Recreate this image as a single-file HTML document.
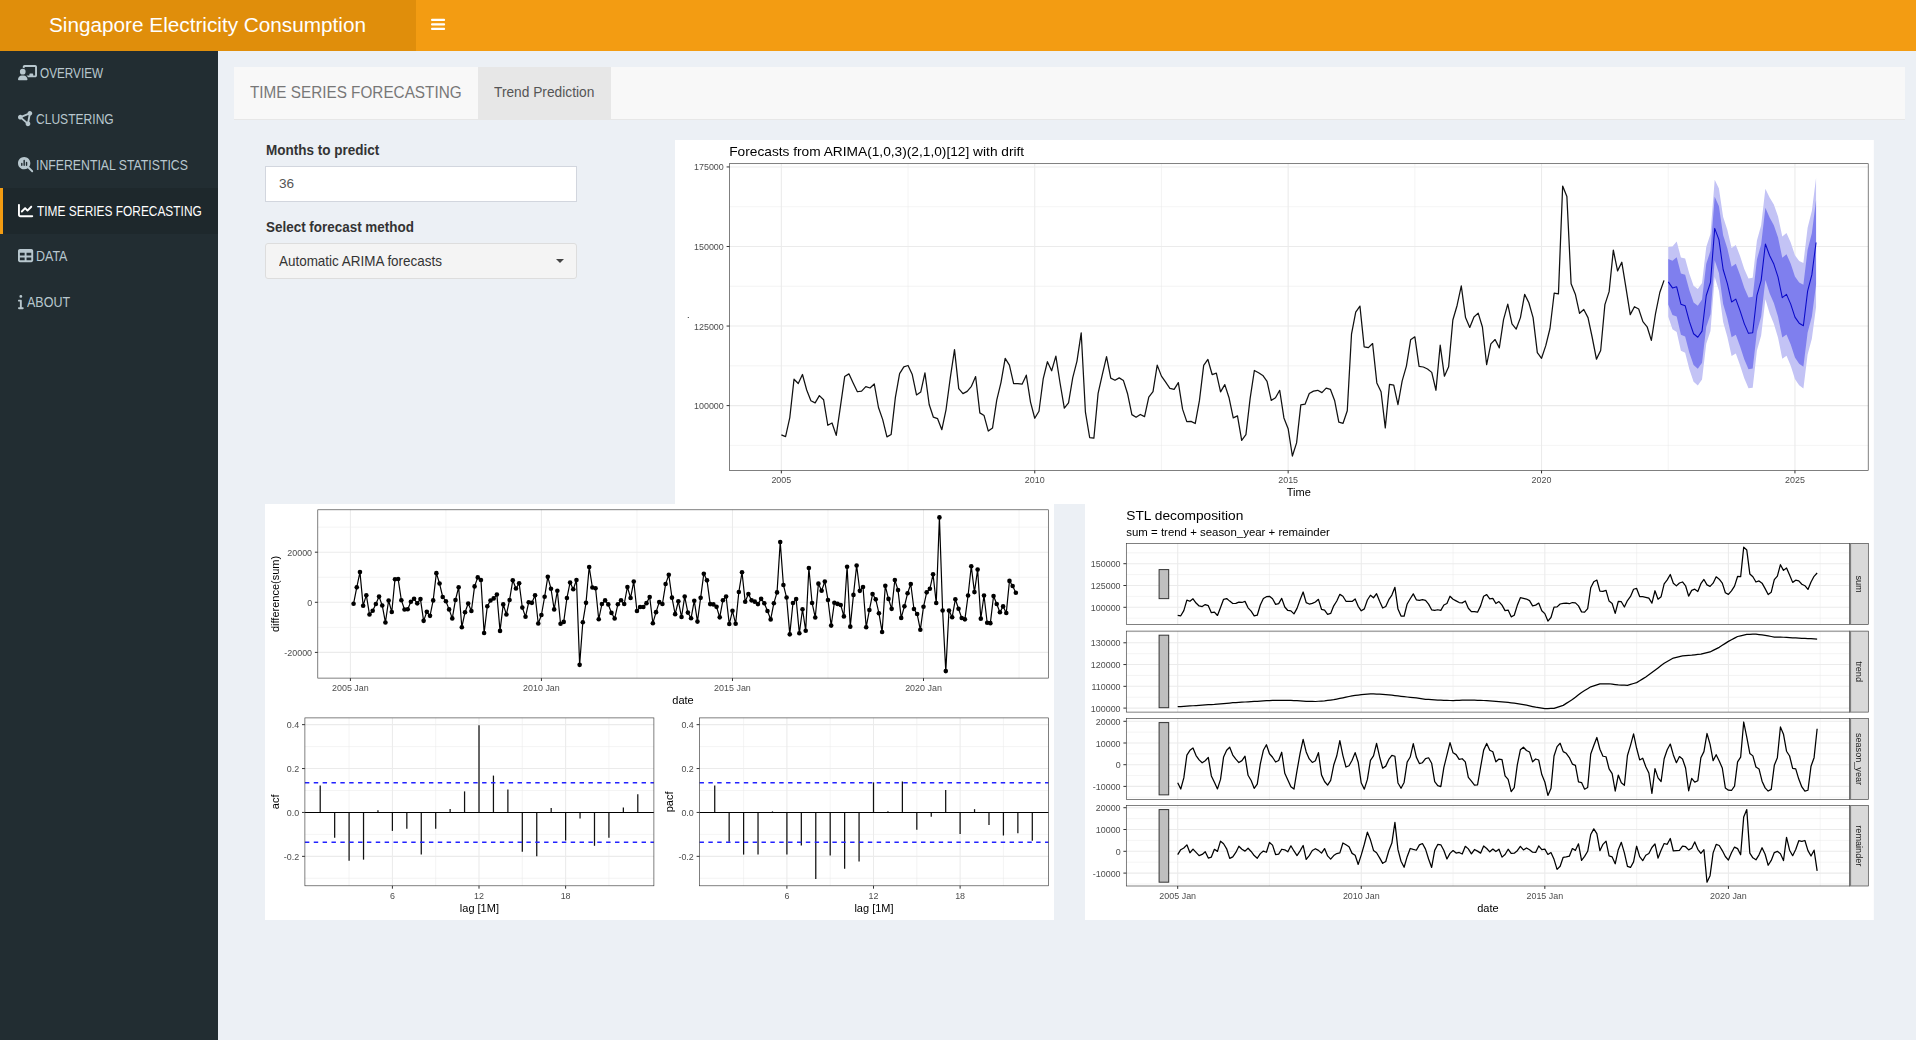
<!DOCTYPE html>
<html lang="en"><head><meta charset="utf-8"><title>Singapore Electricity Consumption</title>
<style>
html,body{margin:0;padding:0}
body{width:1916px;height:1040px;overflow:hidden;background:#ecf0f5;font-family:"Liberation Sans",sans-serif;position:relative}
a{color:inherit;text-decoration:none}
ul{list-style:none;margin:0;padding:0}
.t{position:absolute;white-space:nowrap;line-height:1;transform-origin:0 0;display:block;margin:0;font-weight:400}
.abs{position:absolute}
.main-header{position:absolute;left:0;top:0;width:1916px;height:51px;background:#f39c12}
.main-header .logo{position:absolute;left:0;top:0;width:416px;height:51px;background:#e08e0b}
.main-sidebar{position:absolute;left:0;top:51px;width:218px;height:989px;background:#222d32}
.sidebar-menu li{position:absolute;left:0;width:218px}
.sidebar-menu li.active{background:#1e282c;box-shadow:inset 3px 0 0 #f39c12}
.navbar{position:absolute;left:234px;top:67px;width:1671px;height:52px;background:#f8f8f8;box-shadow:0 1px 0 #e7e7e7}
.navbar .nav li.active{position:absolute;left:244px;top:0;width:133px;height:52px;background:#e7e7e7}
.form-control{position:absolute;box-sizing:border-box;left:265px;width:312px;height:36px;margin:0;background:#fff;border:1px solid #d2d6de;border-radius:0;outline:0}
.btn{position:absolute;box-sizing:border-box;left:265px;top:243px;width:312px;height:36px;background:#f4f4f4;border:1px solid #ddd;border-radius:3px}
.caret{position:absolute;left:290px;top:15px;width:0;height:0;border-left:4px solid transparent;border-right:4px solid transparent;border-top:4px solid #444}
svg.plots{position:absolute;left:0;top:0;will-change:transform}
svg.ic{position:absolute;overflow:visible}
</style></head>
<body class="skin-yellow">
<header class="main-header">
<a class="logo"><span class="t" style="left:49px;top:15.07px;font-size:20px;color:#fff;transform:scaleX(1.0369)">Singapore Electricity Consumption</span></a>
<a class="sidebar-toggle" role="button" aria-label="Toggle navigation"><svg class="ic" aria-hidden="true" style="left:431px;top:18px" width="15" height="13" viewBox="0 0 15 13"><g fill="#fff"><rect x="0" y="0.75" width="14.1" height="2.25" rx="1"/><rect x="0" y="5.3" width="14.1" height="2.3" rx="1"/><rect x="0" y="9.85" width="14.1" height="2.25" rx="1"/></g></svg></a>
</header>
<aside class="main-sidebar"><ul class="sidebar-menu">
<li style="top:0px;height:45px"><a><svg class="ic" aria-hidden="true" style="left:18.2px;top:13.9px" width="19" height="15.2" viewBox="0 0 640 512"><path fill="#b8c7ce" d="M160 64c0-35.300 28.700-64 64-64H576c35.300 0 64 28.700 64 64V352c0 35.300-28.700 64-64 64H336.800c-11.800-25.500-29.900-47.500-52.400-64H384V320c0-17.700 14.300-32 32-32h64c17.700 0 32 14.300 32 32v32h64V64L224 64v49.100C205.200 102.200 183.300 96 160 96V64zm0 64a96 96 0 1 1 0 192 96 96 0 1 1 0-192zM133.300 352h53.300C260.300 352 320 411.700 320 485.300c0 14.700-11.900 26.700-26.700 26.700H26.700C11.900 512 0 500.100 0 485.300C0 411.700 59.700 352 133.300 352z"/></svg><span class="t" style="left:40.4px;top:14.98px;font-size:14.2px;color:#b8c7ce;transform:scaleX(0.8285)">OVERVIEW</span></a></li>
<li style="top:45px;height:46px"><a><svg class="ic" aria-hidden="true" style="left:18.2px;top:14.7px" width="15.2" height="15.2" viewBox="0 0 512 512"><path fill="#b8c7ce" d="M418.400 157.900c35.300-8.300 61.600-40 61.600-77.900c0-44.200-35.800-80-80-80c-43.400 0-78.700 34.500-80 77.500L136.200 151.100C121.700 136.800 101.900 128 80 128c-44.200 0-80 35.800-80 80s35.800 80 80 80c12.200 0 23.800-2.700 34.100-7.600L259.700 407.800c-2.400 7.600-3.700 15.800-3.700 24.200c0 44.200 35.800 80 80 80s80-35.800 80-80c0-27.700-14-52.100-35.400-66.400l37.800-207.700zM156.300 232.200c2.200-6.900 3.500-14.200 3.700-21.700l183.800-73.500c3.600 3.500 7.400 6.700 11.600 9.500L317.600 354.100c-5.500 1.300-10.800 3.100-15.800 5.500L156.300 232.200z"/></svg><span class="t" style="left:36.3px;top:15.78px;font-size:14.2px;color:#b8c7ce;transform:scaleX(0.8500)">CLUSTERING</span></a></li>
<li style="top:91px;height:46px"><a><svg class="ic" aria-hidden="true" style="left:18.2px;top:14.6px" width="15.2" height="15.2" viewBox="0 0 512 512"><path fill="#b8c7ce" d="M416 208c0 45.900-14.900 88.300-40 122.700L502.600 457.400c12.500 12.500 12.500 32.800 0 45.300s-32.800 12.500-45.300 0L330.700 376c-34.400 25.200-76.800 40-122.700 40C93.100 416 0 322.900 0 208S93.100 0 208 0S416 93.100 416 208zm-312 8v64c0 13.300 10.700 24 24 24s24-10.700 24-24V216c0-13.300-10.700-24-24-24s-24 10.700-24 24zm80-96V280c0 13.300 10.700 24 24 24s24-10.700 24-24V120c0-13.300-10.700-24-24-24s-24 10.700-24 24zm80 64v96c0 13.300 10.700 24 24 24s24-10.700 24-24V184c0-13.300-10.700-24-24-24s-24 10.700-24 24z"/></svg><span class="t" style="left:35.8px;top:15.68px;font-size:14.2px;color:#b8c7ce;transform:scaleX(0.8652)">INFERENTIAL STATISTICS</span></a></li>
<li class="active" style="top:137px;height:46px"><a><svg class="ic" aria-hidden="true" style="left:18.2px;top:14.9px" width="15.2" height="15.2" viewBox="0 0 512 512"><path fill="#fff" d="M64 64c0-17.700-14.300-32-32-32S0 46.300 0 64V400c0 44.200 35.800 80 80 80H480c17.700 0 32-14.300 32-32s-14.300-32-32-32H80c-8.800 0-16-7.200-16-16V64zm406.600 86.600c12.500-12.500 12.500-32.800 0-45.300s-32.800-12.500-45.300 0L320 210.700l-57.400-57.400c-12.500-12.500-32.800-12.500-45.300 0l-112 112c-12.500 12.500-12.500 32.800 0 45.300s32.800 12.500 45.300 0L240 221.300l57.400 57.400c12.500 12.500 32.800 12.500 45.300 0l128-128z"/></svg><span class="t" style="left:37px;top:15.98px;font-size:14.2px;color:#fff;transform:scaleX(0.8394)">TIME SERIES FORECASTING</span></a></li>
<li style="top:183px;height:46px"><a><svg class="ic" aria-hidden="true" style="left:18.2px;top:13.9px" width="15.2" height="15.2" viewBox="0 0 512 512"><path fill="#b8c7ce" d="M64 256V160H224v96H64zm0 64H224v96H64V320zm224 96V320H448v96H288zM448 256H288V160H448v96zM64 32C28.700 32 0 60.700 0 96V416c0 35.300 28.700 64 64 64H448c35.300 0 64-28.700 64-64V96c0-35.300-28.700-64-64-64H64z"/></svg><span class="t" style="left:36.3px;top:14.98px;font-size:14.2px;color:#b8c7ce;transform:scaleX(0.8779)">DATA</span></a></li>
<li style="top:229px;height:46px"><a><svg class="ic" aria-hidden="true" style="left:18.2px;top:13.7px" width="5.7" height="15.2" viewBox="0 0 192 512"><path fill="#b8c7ce" d="M48 80a48 48 0 1 1 96 0A48 48 0 1 1 48 80zM0 224c0-17.700 14.300-32 32-32H96c17.700 0 32 14.300 32 32V448h32c17.700 0 32 14.300 32 32s-14.300 32-32 32H32c-17.700 0-32-14.300-32-32s14.300-32 32-32H64V256H32c-17.700 0-32-14.300-32-32z"/></svg><span class="t" style="left:26.9px;top:14.78px;font-size:14.2px;color:#b8c7ce;transform:scaleX(0.8811)">ABOUT</span></a></li>
</ul></aside>
<div class="content-wrapper"><section class="content">
<nav class="navbar navbar-default"><span class="t navbar-brand" style="left:16.3px;top:16.86px;font-size:17.3px;color:#777;transform:scaleX(0.8849)">TIME SERIES FORECASTING</span><ul class="nav navbar-nav"><li class="active"><a><span class="t" style="left:16.3px;top:16.7px;font-size:15px;color:#555;transform:scaleX(0.9160)">Trend Prediction</span></a></li></ul></nav>
<div class="form-group"><label class="t" style="left:265.6px;top:142.3px;font-size:15px;color:#333;font-weight:700;transform:scaleX(0.9004)" for="months">Months to predict</label><input id="months" class="form-control" type="text" value="36" style="top:166px;padding:0 0 1.5px 12.9px;font:13.6px/1 'Liberation Sans',sans-serif;color:#555"></div>
<div class="form-group"><label class="t" style="left:265.6px;top:219.3px;font-size:15px;color:#333;font-weight:700;transform:scaleX(0.8961)">Select forecast method</label><div class="btn dropdown-toggle" role="combobox"><span class="t" style="left:12.6px;top:9.68px;font-size:14.2px;color:#333;transform:scaleX(0.9480)">Automatic ARIMA forecasts</span><span class="caret"></span></div></div>
<svg class="plots" role="img" aria-label="Forecast, differenced series, ACF, PACF and STL decomposition plots" width="1916" height="1040" viewBox="0 0 1916 1040" font-family="Liberation Sans, sans-serif"><rect x="675" y="140" width="1198.8" height="364" fill="#fff"/>
<rect x="729.5" y="163.7" width="1138.7" height="306.8" fill="#fff"/><path d="M729.5,445.38H1868.2" stroke="#ebebeb" stroke-width="0.53"/><path d="M729.5,365.83H1868.2" stroke="#ebebeb" stroke-width="0.53"/><path d="M729.5,286.28H1868.2" stroke="#ebebeb" stroke-width="0.53"/><path d="M729.5,206.73H1868.2" stroke="#ebebeb" stroke-width="0.53"/><path d="M908.05,163.7V470.5" stroke="#ebebeb" stroke-width="0.53"/><path d="M1161.45,163.7V470.5" stroke="#ebebeb" stroke-width="0.53"/><path d="M1414.85,163.7V470.5" stroke="#ebebeb" stroke-width="0.53"/><path d="M1668.24,163.7V470.5" stroke="#ebebeb" stroke-width="0.53"/><path d="M729.5,405.6H1868.2" stroke="#ebebeb" stroke-width="1.07"/><path d="M729.5,326.05H1868.2" stroke="#ebebeb" stroke-width="1.07"/><path d="M729.5,246.5H1868.2" stroke="#ebebeb" stroke-width="1.07"/><path d="M729.5,166.95H1868.2" stroke="#ebebeb" stroke-width="1.07"/><path d="M781.35,163.7V470.5" stroke="#ebebeb" stroke-width="1.07"/><path d="M1034.75,163.7V470.5" stroke="#ebebeb" stroke-width="1.07"/><path d="M1288.15,163.7V470.5" stroke="#ebebeb" stroke-width="1.07"/><path d="M1541.54,163.7V470.5" stroke="#ebebeb" stroke-width="1.07"/><path d="M1794.94,163.7V470.5" stroke="#ebebeb" stroke-width="1.07"/>
<path d="M1668.24,247.06L1672.47,246.54L1676.69,241.57L1680.91,257.42L1685.14,258.45L1689.36,273.75L1693.58,285.84L1697.81,289.06L1702.03,282.9L1706.25,247.11L1710.48,234.03L1714.7,179.85L1718.92,188.57L1723.15,216.96L1727.37,230.05L1731.59,247.95L1735.82,244.9L1740.04,256.12L1744.26,268.96L1748.49,278.55L1752.71,277.75L1756.93,240.44L1761.16,225.2L1765.38,188.76L1769.6,197.55L1773.83,204.5L1778.05,216.51L1782.27,236.57L1786.5,232.99L1790.72,242.43L1794.94,255.17L1799.17,260.98L1803.39,262.99L1807.61,227.79L1811.84,211.03L1816.06,178.05L1816.06,306.91L1811.84,338.82L1807.61,354.51L1803.39,388.55L1799.17,385.37L1794.94,379.06L1790.72,365.84L1786.5,355.81L1782.27,358.72L1778.05,337.68L1773.83,323.72L1769.6,313.37L1765.38,299.22L1761.16,335.47L1756.93,350.52L1752.71,387.63L1748.49,388.14L1744.26,378.25L1740.04,365.13L1735.82,353.42L1731.59,355.99L1727.37,337.11L1723.15,322.08L1718.92,290.76L1714.7,276.98L1710.48,330.97L1706.25,343.85L1702.03,379.45L1697.81,385.41L1693.58,381.71L1689.36,369.13L1685.14,352.85L1680.91,350.85L1676.69,332.08L1672.47,329.27L1668.24,316.65Z" fill="#c3c3f5"/>
<path d="M1668.24,259.1L1672.47,260.86L1676.69,257.23L1680.91,273.59L1685.14,274.78L1689.36,290.26L1693.58,302.43L1697.81,305.73L1702.03,299.61L1706.25,263.85L1710.48,250.81L1714.7,196.66L1718.92,206.25L1723.15,235.15L1727.37,248.58L1731.59,266.65L1735.82,263.68L1740.04,274.99L1744.26,287.87L1748.49,297.51L1752.71,296.77L1756.93,259.49L1761.16,244.28L1765.38,207.87L1769.6,217.59L1773.83,225.13L1778.05,237.48L1782.27,257.71L1786.5,254.24L1790.72,263.79L1794.94,276.61L1799.17,282.51L1803.39,284.72L1807.61,249.72L1811.84,233.15L1816.06,200.35L1816.06,284.61L1811.84,316.71L1807.61,332.58L1803.39,366.82L1799.17,363.84L1794.94,357.62L1790.72,344.48L1786.5,334.56L1782.27,337.58L1778.05,316.71L1773.83,303.09L1769.6,293.32L1765.38,280.11L1761.16,316.39L1756.93,331.47L1752.71,368.62L1748.49,369.17L1744.26,359.34L1740.04,346.26L1735.82,334.64L1731.59,337.29L1727.37,318.58L1723.15,303.88L1718.92,273.07L1714.7,260.17L1710.48,314.19L1706.25,327.11L1702.03,362.74L1697.81,368.74L1693.58,365.12L1689.36,352.63L1685.14,336.51L1680.91,334.68L1676.69,316.42L1672.47,314.96L1668.24,304.6Z" fill="#7f7fee"/>
<path d="M1668.24,281.85L1672.47,287.91L1676.69,286.83L1680.91,304.13L1685.14,305.65L1689.36,321.44L1693.58,333.77L1697.81,337.24L1702.03,331.18L1706.25,295.48L1710.48,282.5L1714.7,228.41L1718.92,239.66L1723.15,269.52L1727.37,283.58L1731.59,301.97L1735.82,299.16L1740.04,310.62L1744.26,323.61L1748.49,333.34L1752.71,332.69L1756.93,295.48L1761.16,280.34L1765.38,243.99L1769.6,255.46L1773.83,264.11L1778.05,277.09L1782.27,297.64L1786.5,294.4L1790.72,304.13L1794.94,317.12L1799.17,323.17L1803.39,325.77L1807.61,291.15L1811.84,274.93L1816.06,242.48" fill="none" stroke="#0a0ac8" stroke-width="1.07" stroke-linejoin="round"/>
<path d="M781.35,434.83L785.57,436.58L789.8,417.6L794.02,379.23L798.24,383.54L802.47,374.52L806.69,390L810.91,400.77L815.14,402.92L819.36,395.65L823.58,399.69L827.81,425.27L832.03,422.98L836.25,435.37L840.48,406.15L844.7,376.54L848.92,373.85L853.15,383L857.37,391.75L861.59,391.08L865.82,386.63L870.04,387.98L874.26,383.94L878.49,407.5L882.71,419.62L886.93,436.85L891.16,434.42L895.38,397.4L899.6,373.58L903.83,366.85L908.05,365.5L912.27,374.52L916.5,394.98L920.72,392.02L924.94,372.9L929.17,404.54L933.39,417.19L937.61,418.67L941.84,429.71L946.06,409.52L950.28,377.88L954.51,349.62L958.73,388.65L962.95,393.63L967.18,391.35L971.4,386.37L975.62,376.54L979.85,412.88L984.07,415.58L988.29,431.06L992.51,428.1L996.74,400.1L1000.96,382.6L1005.18,358.37L1009.41,365.1L1013.63,383.54L1017.85,383.54L1022.08,384.21L1026.3,375.19L1030.52,402.12L1034.75,418.27L1038.97,411.27L1043.19,378.96L1047.42,361.73L1051.64,370.75L1055.86,356.08L1060.09,383.27L1064.31,408.17L1068.53,402.79L1072.76,377.62L1076.98,361.06L1081.2,332.79L1085.43,412.21L1089.65,437.52L1093.87,438.19L1098.1,393.37L1102.32,374.52L1106.54,356.62L1110.77,378.15L1114.99,380.31L1119.21,377.88L1123.44,380.58L1127.66,394.04L1131.88,414.63L1136.11,417.19L1140.33,414.5L1144.55,416.65L1148.78,397.13L1153,391.62L1157.22,365.12L1161.45,376.15L1165.67,382.21L1169.89,388.27L1174.12,389.35L1178.34,382.62L1182.56,409.13L1186.79,421.65L1191.01,421.38L1195.23,423.54L1199.46,400.38L1203.68,365.38L1207.9,359.46L1212.13,374.54L1216.35,373.19L1220.57,391.9L1224.8,384.63L1229.02,397.69L1233.24,417.88L1237.47,415.87L1241.69,440.37L1245.91,434.71L1250.14,398.37L1254.36,370.5L1258.58,372.79L1262.81,375.48L1267.03,381.27L1271.25,400.38L1275.48,397.69L1279.7,390.29L1283.92,417.92L1288.15,428.71L1292.37,456.01L1296.59,442.93L1300.82,404.85L1305.04,404.19L1309.26,393.57L1313.49,391.12L1317.71,390.3L1321.93,392.59L1326.16,388.17L1330.38,389.32L1334.6,400.43L1338.83,422.17L1343.05,423.32L1347.27,410.73L1351.5,334.23L1355.72,312.16L1359.94,306.12L1364.17,346.82L1368.39,347.63L1372.61,343.55L1376.84,382.94L1381.06,391.77L1385.28,427.89L1389.51,384.41L1393.73,385.23L1397.95,404.52L1402.18,380.82L1406.4,366.11L1410.62,339.81L1414.85,336.85L1419.07,366.46L1423.29,367L1427.51,369.02L1431.74,372.38L1435.96,390.29L1440.18,345.19L1444.41,376.15L1448.63,366.73L1452.85,320.02L1457.08,305.48L1461.3,285.96L1465.52,317.6L1469.75,327.42L1473.97,316.92L1478.19,313.15L1482.42,327.02L1486.64,364.71L1490.86,343.85L1495.09,339.54L1499.31,347.88L1503.53,319.62L1507.76,304.13L1511.98,323.92L1516.2,329.04L1520.43,317.6L1524.65,294.31L1528.87,302.79L1533.1,317.6L1537.32,352.56L1541.54,358.27L1545.77,345.63L1549.99,328.5L1554.21,293.02L1558.44,293.88L1562.66,186.06L1566.88,196.44L1571.11,283.85L1575.33,294.23L1579.55,313.27L1583.78,309.46L1588,317.6L1592.22,337.5L1596.45,359.13L1600.67,350.48L1604.89,304.62L1609.12,291.63L1613.34,250.1L1617.56,270.87L1621.79,262.21L1626.01,288.17L1630.23,314.65L1634.46,306.69L1638.68,308.94L1642.9,321.58L1647.13,326.77L1651.35,340.44L1655.57,313.27L1659.8,292.5L1664.02,280.38" fill="none" stroke="#111" stroke-width="1.25" stroke-linejoin="round"/>
<rect x="729.5" y="163.7" width="1138.7" height="306.8" fill="none" stroke="#333333" stroke-width="0.62"/>
<path d="M726.6,405.6H729.5" stroke="#333333" stroke-width="1"/>
<text x="723.8" y="409.1" font-size="9.4" fill="#4d4d4d" text-anchor="end" textLength="29.81" lengthAdjust="spacingAndGlyphs">100000</text>
<path d="M726.6,326.05H729.5" stroke="#333333" stroke-width="1"/>
<text x="723.8" y="329.55" font-size="9.4" fill="#4d4d4d" text-anchor="end" textLength="29.81" lengthAdjust="spacingAndGlyphs">125000</text>
<path d="M726.6,246.5H729.5" stroke="#333333" stroke-width="1"/>
<text x="723.8" y="250" font-size="9.4" fill="#4d4d4d" text-anchor="end" textLength="29.81" lengthAdjust="spacingAndGlyphs">150000</text>
<path d="M726.6,166.95H729.5" stroke="#333333" stroke-width="1"/>
<text x="723.8" y="170.45" font-size="9.4" fill="#4d4d4d" text-anchor="end" textLength="29.81" lengthAdjust="spacingAndGlyphs">175000</text>
<path d="M781.35,470.5V473.4" stroke="#333333" stroke-width="1"/>
<text x="781.35" y="483" font-size="9.4" fill="#4d4d4d" text-anchor="middle" textLength="19.87" lengthAdjust="spacingAndGlyphs">2005</text>
<path d="M1034.75,470.5V473.4" stroke="#333333" stroke-width="1"/>
<text x="1034.75" y="483" font-size="9.4" fill="#4d4d4d" text-anchor="middle" textLength="19.87" lengthAdjust="spacingAndGlyphs">2010</text>
<path d="M1288.15,470.5V473.4" stroke="#333333" stroke-width="1"/>
<text x="1288.15" y="483" font-size="9.4" fill="#4d4d4d" text-anchor="middle" textLength="19.87" lengthAdjust="spacingAndGlyphs">2015</text>
<path d="M1541.54,470.5V473.4" stroke="#333333" stroke-width="1"/>
<text x="1541.54" y="483" font-size="9.4" fill="#4d4d4d" text-anchor="middle" textLength="19.87" lengthAdjust="spacingAndGlyphs">2020</text>
<path d="M1794.94,470.5V473.4" stroke="#333333" stroke-width="1"/>
<text x="1794.94" y="483" font-size="9.4" fill="#4d4d4d" text-anchor="middle" textLength="19.87" lengthAdjust="spacingAndGlyphs">2025</text>
<text x="1298.85" y="496" font-size="11" fill="#000" text-anchor="middle">Time</text>
<text x="729.2" y="156" font-size="13.2" fill="#000" textLength="295" lengthAdjust="spacingAndGlyphs">Forecasts from ARIMA(1,0,3)(2,1,0)[12] with drift</text>
<rect x="687.8" y="317" width="1" height="1" fill="#333"/>
<rect x="265" y="504" width="789" height="416" fill="#fff"/>
<rect x="317.8" y="509.8" width="730.5" height="168.3" fill="#fff"/><path d="M317.8,627.35H1048.3" stroke="#ebebeb" stroke-width="0.53"/><path d="M317.8,577.25H1048.3" stroke="#ebebeb" stroke-width="0.53"/><path d="M317.8,527.15H1048.3" stroke="#ebebeb" stroke-width="0.53"/><path d="M445.92,509.8V678.1" stroke="#ebebeb" stroke-width="0.53"/><path d="M636.95,509.8V678.1" stroke="#ebebeb" stroke-width="0.53"/><path d="M827.98,509.8V678.1" stroke="#ebebeb" stroke-width="0.53"/><path d="M1019.02,509.8V678.1" stroke="#ebebeb" stroke-width="0.53"/><path d="M317.8,652.4H1048.3" stroke="#ebebeb" stroke-width="1.07"/><path d="M317.8,602.3H1048.3" stroke="#ebebeb" stroke-width="1.07"/><path d="M317.8,552.2H1048.3" stroke="#ebebeb" stroke-width="1.07"/><path d="M350.4,509.8V678.1" stroke="#ebebeb" stroke-width="1.07"/><path d="M541.43,509.8V678.1" stroke="#ebebeb" stroke-width="1.07"/><path d="M732.47,509.8V678.1" stroke="#ebebeb" stroke-width="1.07"/><path d="M923.5,509.8V678.1" stroke="#ebebeb" stroke-width="1.07"/>
<path d="M353.58,603.68L356.77,587.36L359.95,572.1L363.14,605.69L366.32,595.2L369.5,614.49L372.69,610.78L375.87,604L379.06,596.58L382.24,605.48L385.42,622.44L388.61,600.5L391.79,612.05L394.97,579.3L398.16,578.99L401.34,600.18L404.53,609.51L407.71,609.19L410.89,601.77L414.08,598.8L417.26,603.36L420.45,599.12L423.63,620.85L426.81,611.84L430,615.86L433.18,600.39L436.37,573.16L439.55,583.54L442.73,597L445.92,601.24L449.1,609.4L452.28,618.41L455.47,599.97L458.65,587.25L461.84,627.2L465.02,612.26L468.2,603.47L471.39,610.99L474.57,586.4L477.76,577.4L480.94,580.05L484.12,633.03L487.31,606.22L490.49,600.5L493.68,598.38L496.86,594.56L500.04,630.91L503.23,604.42L506.41,614.49L509.59,599.97L512.78,580.26L515.96,588.52L519.15,583.22L522.33,607.6L525.51,616.82L528.7,602.3L531.88,602.83L535.07,595.2L538.25,623.49L541.43,615.02L544.62,596.79L547.8,576.87L550.99,588.74L554.17,609.4L557.35,590.75L560.54,623.71L563.72,621.91L566.91,598.06L570.09,582.48L573.27,589.27L576.46,580.05L579.64,664.83L582.82,622.22L586.01,602.83L589.19,567.01L592.38,587.46L595.56,588.21L598.74,619.26L601.93,604L605.11,600.39L608.3,604.42L611.48,612.9L614.66,618.51L617.85,604.31L621.03,600.18L624.22,604L627.4,586.93L630.58,597.96L633.77,581.44L636.95,610.99L640.13,607.07L643.32,607.07L646.5,603.15L649.69,597L652.87,623.18L656.05,612.16L659.24,602.09L662.42,604L665.61,584.07L668.79,574.75L671.97,597.64L675.16,614.17L678.34,601.24L681.53,617.03L684.71,596.58L687.89,612.58L691.08,618.2L694.26,600.71L697.45,621.59L700.63,597.85L703.81,573.69L707,580.36L710.18,604.1L713.36,604.42L716.55,606.86L719.73,617.35L722.92,600.18L726.1,596.47L729.28,624.06L732.47,610.79L735.65,623.79L738.84,592.01L742.02,572.32L745.2,601.79L748.39,593.94L751.57,600.37L754.76,601.66L757.94,604.1L761.12,598.83L764.31,603.2L767.49,611.05L770.67,619.41L773.86,603.2L777.04,592.39L780.23,542.08L783.41,584.93L786.59,597.54L789.78,634.34L792.96,602.94L796.15,599.08L799.33,633.31L802.51,609.25L805.7,630.74L808.88,568.07L812.07,602.94L815.25,617.48L818.43,583.64L821.62,590.72L824.8,581.6L827.98,599.97L831.17,625.61L834.35,602.72L837.54,603.89L840.72,604.95L843.9,616.39L847.09,566.8L850.27,626.67L853.46,594.88L856.64,565.53L859.82,590.85L863.01,586.93L866.19,627.2L869.38,610.04L872.56,594.03L875.74,599.33L878.93,613.22L882.11,631.97L885.3,585.87L888.48,598.91L891.66,608.87L894.85,580.05L898.03,590.11L901.21,617.88L904.4,606.33L907.58,593.29L910.77,583.97L913.95,608.98L917.13,613.96L920.32,629.82L923.5,606.8L926.69,592.35L929.87,588.81L933.05,574.37L936.24,602.98L939.42,517.41L942.61,610.48L945.79,671.11L948.97,610.48L952.16,617.29L955.34,599.3L958.52,608.7L961.71,617.97L964.89,619.33L968.08,595.49L971.26,566.19L974.44,592.08L977.63,569.6L980.81,618.65L984,595.49L987.18,622.74L990.36,623.15L993.55,596.03L996.73,604.07L999.92,612.25L1003.1,606.39L1006.28,613.06L1009.47,580.91L1012.65,585.95L1015.84,592.76" fill="none" stroke="#000" stroke-width="1.2" stroke-linejoin="round"/>
<g fill="#000"><circle cx="353.58" cy="603.68" r="2.3"/><circle cx="356.77" cy="587.36" r="2.3"/><circle cx="359.95" cy="572.1" r="2.3"/><circle cx="363.14" cy="605.69" r="2.3"/><circle cx="366.32" cy="595.2" r="2.3"/><circle cx="369.5" cy="614.49" r="2.3"/><circle cx="372.69" cy="610.78" r="2.3"/><circle cx="375.87" cy="604" r="2.3"/><circle cx="379.06" cy="596.58" r="2.3"/><circle cx="382.24" cy="605.48" r="2.3"/><circle cx="385.42" cy="622.44" r="2.3"/><circle cx="388.61" cy="600.5" r="2.3"/><circle cx="391.79" cy="612.05" r="2.3"/><circle cx="394.97" cy="579.3" r="2.3"/><circle cx="398.16" cy="578.99" r="2.3"/><circle cx="401.34" cy="600.18" r="2.3"/><circle cx="404.53" cy="609.51" r="2.3"/><circle cx="407.71" cy="609.19" r="2.3"/><circle cx="410.89" cy="601.77" r="2.3"/><circle cx="414.08" cy="598.8" r="2.3"/><circle cx="417.26" cy="603.36" r="2.3"/><circle cx="420.45" cy="599.12" r="2.3"/><circle cx="423.63" cy="620.85" r="2.3"/><circle cx="426.81" cy="611.84" r="2.3"/><circle cx="430" cy="615.86" r="2.3"/><circle cx="433.18" cy="600.39" r="2.3"/><circle cx="436.37" cy="573.16" r="2.3"/><circle cx="439.55" cy="583.54" r="2.3"/><circle cx="442.73" cy="597" r="2.3"/><circle cx="445.92" cy="601.24" r="2.3"/><circle cx="449.1" cy="609.4" r="2.3"/><circle cx="452.28" cy="618.41" r="2.3"/><circle cx="455.47" cy="599.97" r="2.3"/><circle cx="458.65" cy="587.25" r="2.3"/><circle cx="461.84" cy="627.2" r="2.3"/><circle cx="465.02" cy="612.26" r="2.3"/><circle cx="468.2" cy="603.47" r="2.3"/><circle cx="471.39" cy="610.99" r="2.3"/><circle cx="474.57" cy="586.4" r="2.3"/><circle cx="477.76" cy="577.4" r="2.3"/><circle cx="480.94" cy="580.05" r="2.3"/><circle cx="484.12" cy="633.03" r="2.3"/><circle cx="487.31" cy="606.22" r="2.3"/><circle cx="490.49" cy="600.5" r="2.3"/><circle cx="493.68" cy="598.38" r="2.3"/><circle cx="496.86" cy="594.56" r="2.3"/><circle cx="500.04" cy="630.91" r="2.3"/><circle cx="503.23" cy="604.42" r="2.3"/><circle cx="506.41" cy="614.49" r="2.3"/><circle cx="509.59" cy="599.97" r="2.3"/><circle cx="512.78" cy="580.26" r="2.3"/><circle cx="515.96" cy="588.52" r="2.3"/><circle cx="519.15" cy="583.22" r="2.3"/><circle cx="522.33" cy="607.6" r="2.3"/><circle cx="525.51" cy="616.82" r="2.3"/><circle cx="528.7" cy="602.3" r="2.3"/><circle cx="531.88" cy="602.83" r="2.3"/><circle cx="535.07" cy="595.2" r="2.3"/><circle cx="538.25" cy="623.49" r="2.3"/><circle cx="541.43" cy="615.02" r="2.3"/><circle cx="544.62" cy="596.79" r="2.3"/><circle cx="547.8" cy="576.87" r="2.3"/><circle cx="550.99" cy="588.74" r="2.3"/><circle cx="554.17" cy="609.4" r="2.3"/><circle cx="557.35" cy="590.75" r="2.3"/><circle cx="560.54" cy="623.71" r="2.3"/><circle cx="563.72" cy="621.91" r="2.3"/><circle cx="566.91" cy="598.06" r="2.3"/><circle cx="570.09" cy="582.48" r="2.3"/><circle cx="573.27" cy="589.27" r="2.3"/><circle cx="576.46" cy="580.05" r="2.3"/><circle cx="579.64" cy="664.83" r="2.3"/><circle cx="582.82" cy="622.22" r="2.3"/><circle cx="586.01" cy="602.83" r="2.3"/><circle cx="589.19" cy="567.01" r="2.3"/><circle cx="592.38" cy="587.46" r="2.3"/><circle cx="595.56" cy="588.21" r="2.3"/><circle cx="598.74" cy="619.26" r="2.3"/><circle cx="601.93" cy="604" r="2.3"/><circle cx="605.11" cy="600.39" r="2.3"/><circle cx="608.3" cy="604.42" r="2.3"/><circle cx="611.48" cy="612.9" r="2.3"/><circle cx="614.66" cy="618.51" r="2.3"/><circle cx="617.85" cy="604.31" r="2.3"/><circle cx="621.03" cy="600.18" r="2.3"/><circle cx="624.22" cy="604" r="2.3"/><circle cx="627.4" cy="586.93" r="2.3"/><circle cx="630.58" cy="597.96" r="2.3"/><circle cx="633.77" cy="581.44" r="2.3"/><circle cx="636.95" cy="610.99" r="2.3"/><circle cx="640.13" cy="607.07" r="2.3"/><circle cx="643.32" cy="607.07" r="2.3"/><circle cx="646.5" cy="603.15" r="2.3"/><circle cx="649.69" cy="597" r="2.3"/><circle cx="652.87" cy="623.18" r="2.3"/><circle cx="656.05" cy="612.16" r="2.3"/><circle cx="659.24" cy="602.09" r="2.3"/><circle cx="662.42" cy="604" r="2.3"/><circle cx="665.61" cy="584.07" r="2.3"/><circle cx="668.79" cy="574.75" r="2.3"/><circle cx="671.97" cy="597.64" r="2.3"/><circle cx="675.16" cy="614.17" r="2.3"/><circle cx="678.34" cy="601.24" r="2.3"/><circle cx="681.53" cy="617.03" r="2.3"/><circle cx="684.71" cy="596.58" r="2.3"/><circle cx="687.89" cy="612.58" r="2.3"/><circle cx="691.08" cy="618.2" r="2.3"/><circle cx="694.26" cy="600.71" r="2.3"/><circle cx="697.45" cy="621.59" r="2.3"/><circle cx="700.63" cy="597.85" r="2.3"/><circle cx="703.81" cy="573.69" r="2.3"/><circle cx="707" cy="580.36" r="2.3"/><circle cx="710.18" cy="604.1" r="2.3"/><circle cx="713.36" cy="604.42" r="2.3"/><circle cx="716.55" cy="606.86" r="2.3"/><circle cx="719.73" cy="617.35" r="2.3"/><circle cx="722.92" cy="600.18" r="2.3"/><circle cx="726.1" cy="596.47" r="2.3"/><circle cx="729.28" cy="624.06" r="2.3"/><circle cx="732.47" cy="610.79" r="2.3"/><circle cx="735.65" cy="623.79" r="2.3"/><circle cx="738.84" cy="592.01" r="2.3"/><circle cx="742.02" cy="572.32" r="2.3"/><circle cx="745.2" cy="601.79" r="2.3"/><circle cx="748.39" cy="593.94" r="2.3"/><circle cx="751.57" cy="600.37" r="2.3"/><circle cx="754.76" cy="601.66" r="2.3"/><circle cx="757.94" cy="604.1" r="2.3"/><circle cx="761.12" cy="598.83" r="2.3"/><circle cx="764.31" cy="603.2" r="2.3"/><circle cx="767.49" cy="611.05" r="2.3"/><circle cx="770.67" cy="619.41" r="2.3"/><circle cx="773.86" cy="603.2" r="2.3"/><circle cx="777.04" cy="592.39" r="2.3"/><circle cx="780.23" cy="542.08" r="2.3"/><circle cx="783.41" cy="584.93" r="2.3"/><circle cx="786.59" cy="597.54" r="2.3"/><circle cx="789.78" cy="634.34" r="2.3"/><circle cx="792.96" cy="602.94" r="2.3"/><circle cx="796.15" cy="599.08" r="2.3"/><circle cx="799.33" cy="633.31" r="2.3"/><circle cx="802.51" cy="609.25" r="2.3"/><circle cx="805.7" cy="630.74" r="2.3"/><circle cx="808.88" cy="568.07" r="2.3"/><circle cx="812.07" cy="602.94" r="2.3"/><circle cx="815.25" cy="617.48" r="2.3"/><circle cx="818.43" cy="583.64" r="2.3"/><circle cx="821.62" cy="590.72" r="2.3"/><circle cx="824.8" cy="581.6" r="2.3"/><circle cx="827.98" cy="599.97" r="2.3"/><circle cx="831.17" cy="625.61" r="2.3"/><circle cx="834.35" cy="602.72" r="2.3"/><circle cx="837.54" cy="603.89" r="2.3"/><circle cx="840.72" cy="604.95" r="2.3"/><circle cx="843.9" cy="616.39" r="2.3"/><circle cx="847.09" cy="566.8" r="2.3"/><circle cx="850.27" cy="626.67" r="2.3"/><circle cx="853.46" cy="594.88" r="2.3"/><circle cx="856.64" cy="565.53" r="2.3"/><circle cx="859.82" cy="590.85" r="2.3"/><circle cx="863.01" cy="586.93" r="2.3"/><circle cx="866.19" cy="627.2" r="2.3"/><circle cx="869.38" cy="610.04" r="2.3"/><circle cx="872.56" cy="594.03" r="2.3"/><circle cx="875.74" cy="599.33" r="2.3"/><circle cx="878.93" cy="613.22" r="2.3"/><circle cx="882.11" cy="631.97" r="2.3"/><circle cx="885.3" cy="585.87" r="2.3"/><circle cx="888.48" cy="598.91" r="2.3"/><circle cx="891.66" cy="608.87" r="2.3"/><circle cx="894.85" cy="580.05" r="2.3"/><circle cx="898.03" cy="590.11" r="2.3"/><circle cx="901.21" cy="617.88" r="2.3"/><circle cx="904.4" cy="606.33" r="2.3"/><circle cx="907.58" cy="593.29" r="2.3"/><circle cx="910.77" cy="583.97" r="2.3"/><circle cx="913.95" cy="608.98" r="2.3"/><circle cx="917.13" cy="613.96" r="2.3"/><circle cx="920.32" cy="629.82" r="2.3"/><circle cx="923.5" cy="606.8" r="2.3"/><circle cx="926.69" cy="592.35" r="2.3"/><circle cx="929.87" cy="588.81" r="2.3"/><circle cx="933.05" cy="574.37" r="2.3"/><circle cx="936.24" cy="602.98" r="2.3"/><circle cx="939.42" cy="517.41" r="2.3"/><circle cx="942.61" cy="610.48" r="2.3"/><circle cx="945.79" cy="671.11" r="2.3"/><circle cx="948.97" cy="610.48" r="2.3"/><circle cx="952.16" cy="617.29" r="2.3"/><circle cx="955.34" cy="599.3" r="2.3"/><circle cx="958.52" cy="608.7" r="2.3"/><circle cx="961.71" cy="617.97" r="2.3"/><circle cx="964.89" cy="619.33" r="2.3"/><circle cx="968.08" cy="595.49" r="2.3"/><circle cx="971.26" cy="566.19" r="2.3"/><circle cx="974.44" cy="592.08" r="2.3"/><circle cx="977.63" cy="569.6" r="2.3"/><circle cx="980.81" cy="618.65" r="2.3"/><circle cx="984" cy="595.49" r="2.3"/><circle cx="987.18" cy="622.74" r="2.3"/><circle cx="990.36" cy="623.15" r="2.3"/><circle cx="993.55" cy="596.03" r="2.3"/><circle cx="996.73" cy="604.07" r="2.3"/><circle cx="999.92" cy="612.25" r="2.3"/><circle cx="1003.1" cy="606.39" r="2.3"/><circle cx="1006.28" cy="613.06" r="2.3"/><circle cx="1009.47" cy="580.91" r="2.3"/><circle cx="1012.65" cy="585.95" r="2.3"/><circle cx="1015.84" cy="592.76" r="2.3"/></g>
<rect x="317.8" y="509.8" width="730.5" height="168.3" fill="none" stroke="#333333" stroke-width="0.62"/>
<path d="M314.9,652.4H317.8" stroke="#333333" stroke-width="1"/>
<text x="312.1" y="655.9" font-size="9.4" fill="#4d4d4d" text-anchor="end" textLength="27.81" lengthAdjust="spacingAndGlyphs">-20000</text>
<path d="M314.9,602.3H317.8" stroke="#333333" stroke-width="1"/>
<text x="312.1" y="605.8" font-size="9.4" fill="#4d4d4d" text-anchor="end" textLength="4.97" lengthAdjust="spacingAndGlyphs">0</text>
<path d="M314.9,552.2H317.8" stroke="#333333" stroke-width="1"/>
<text x="312.1" y="555.7" font-size="9.4" fill="#4d4d4d" text-anchor="end" textLength="24.84" lengthAdjust="spacingAndGlyphs">20000</text>
<path d="M350.4,678.1V681" stroke="#333333" stroke-width="1"/>
<text x="350.4" y="690.6" font-size="9.4" fill="#4d4d4d" text-anchor="middle" textLength="36.75" lengthAdjust="spacingAndGlyphs">2005 Jan</text>
<path d="M541.43,678.1V681" stroke="#333333" stroke-width="1"/>
<text x="541.43" y="690.6" font-size="9.4" fill="#4d4d4d" text-anchor="middle" textLength="36.75" lengthAdjust="spacingAndGlyphs">2010 Jan</text>
<path d="M732.47,678.1V681" stroke="#333333" stroke-width="1"/>
<text x="732.47" y="690.6" font-size="9.4" fill="#4d4d4d" text-anchor="middle" textLength="36.75" lengthAdjust="spacingAndGlyphs">2015 Jan</text>
<path d="M923.5,678.1V681" stroke="#333333" stroke-width="1"/>
<text x="923.5" y="690.6" font-size="9.4" fill="#4d4d4d" text-anchor="middle" textLength="36.75" lengthAdjust="spacingAndGlyphs">2020 Jan</text>
<text x="683.05" y="703.5" font-size="11" fill="#000" text-anchor="middle">date</text>
<text x="279" y="593.95" font-size="11" fill="#000" text-anchor="middle" transform="rotate(-90 279 593.95)">difference(sum)</text>
<rect x="304.9" y="717.9" width="349" height="167.9" fill="#fff"/><path d="M304.9,878.3H653.9" stroke="#ebebeb" stroke-width="0.53"/><path d="M304.9,834.4H653.9" stroke="#ebebeb" stroke-width="0.53"/><path d="M304.9,790.5H653.9" stroke="#ebebeb" stroke-width="0.53"/><path d="M304.9,746.6H653.9" stroke="#ebebeb" stroke-width="0.53"/><path d="M349.09,717.9V885.8" stroke="#ebebeb" stroke-width="0.53"/><path d="M435.7,717.9V885.8" stroke="#ebebeb" stroke-width="0.53"/><path d="M522.31,717.9V885.8" stroke="#ebebeb" stroke-width="0.53"/><path d="M608.92,717.9V885.8" stroke="#ebebeb" stroke-width="0.53"/><path d="M304.9,856.35H653.9" stroke="#ebebeb" stroke-width="1.07"/><path d="M304.9,812.45H653.9" stroke="#ebebeb" stroke-width="1.07"/><path d="M304.9,768.55H653.9" stroke="#ebebeb" stroke-width="1.07"/><path d="M304.9,724.65H653.9" stroke="#ebebeb" stroke-width="1.07"/><path d="M392.4,717.9V885.8" stroke="#ebebeb" stroke-width="1.07"/><path d="M479.01,717.9V885.8" stroke="#ebebeb" stroke-width="1.07"/><path d="M565.62,717.9V885.8" stroke="#ebebeb" stroke-width="1.07"/><path d="M320.22,812.45V785.45" stroke="#111" stroke-width="1.25"/><path d="M334.66,812.45V837.69" stroke="#111" stroke-width="1.25"/><path d="M349.09,812.45V860.74" stroke="#111" stroke-width="1.25"/><path d="M363.53,812.45V859.64" stroke="#111" stroke-width="1.25"/><path d="M377.96,812.45V810.25" stroke="#111" stroke-width="1.25"/><path d="M392.4,812.45V830.89" stroke="#111" stroke-width="1.25"/><path d="M406.83,812.45V828.69" stroke="#111" stroke-width="1.25"/><path d="M421.27,812.45V854.59" stroke="#111" stroke-width="1.25"/><path d="M435.7,812.45V828.69" stroke="#111" stroke-width="1.25"/><path d="M450.14,812.45V808.94" stroke="#111" stroke-width="1.25"/><path d="M464.57,812.45V791.38" stroke="#111" stroke-width="1.25"/><path d="M479.01,812.45V725.31" stroke="#111" stroke-width="1.25"/><path d="M493.44,812.45V775.57" stroke="#111" stroke-width="1.25"/><path d="M507.88,812.45V789.62" stroke="#111" stroke-width="1.25"/><path d="M522.31,812.45V851.74" stroke="#111" stroke-width="1.25"/><path d="M536.75,812.45V856.35" stroke="#111" stroke-width="1.25"/><path d="M551.18,812.45V808.06" stroke="#111" stroke-width="1.25"/><path d="M565.62,812.45V840.55" stroke="#111" stroke-width="1.25"/><path d="M580.05,812.45V818.38" stroke="#111" stroke-width="1.25"/><path d="M594.49,812.45V845.81" stroke="#111" stroke-width="1.25"/><path d="M608.92,812.45V837.69" stroke="#111" stroke-width="1.25"/><path d="M623.36,812.45V807.4" stroke="#111" stroke-width="1.25"/><path d="M637.79,812.45V794.23" stroke="#111" stroke-width="1.25"/><path d="M304.9,812.45H653.9" stroke="#000" stroke-width="1.07"/><path d="M304.9,782.69H653.9" stroke="#2222ff" stroke-width="1.4" stroke-dasharray="4.43 4.43"/><path d="M304.9,842.21H653.9" stroke="#2222ff" stroke-width="1.4" stroke-dasharray="4.43 4.43"/><rect x="304.9" y="717.9" width="349" height="167.9" fill="none" stroke="#333333" stroke-width="0.62"/><path d="M302,856.35H304.9" stroke="#333333" stroke-width="1"/><text x="299.2" y="859.85" font-size="9.4" fill="#4d4d4d" text-anchor="end" textLength="15.39" lengthAdjust="spacingAndGlyphs">-0.2</text><path d="M302,812.45H304.9" stroke="#333333" stroke-width="1"/><text x="299.2" y="815.95" font-size="9.4" fill="#4d4d4d" text-anchor="end" textLength="12.42" lengthAdjust="spacingAndGlyphs">0.0</text><path d="M302,768.55H304.9" stroke="#333333" stroke-width="1"/><text x="299.2" y="772.05" font-size="9.4" fill="#4d4d4d" text-anchor="end" textLength="12.42" lengthAdjust="spacingAndGlyphs">0.2</text><path d="M302,724.65H304.9" stroke="#333333" stroke-width="1"/><text x="299.2" y="728.15" font-size="9.4" fill="#4d4d4d" text-anchor="end" textLength="12.42" lengthAdjust="spacingAndGlyphs">0.4</text><path d="M392.4,885.8V888.7" stroke="#333333" stroke-width="1"/><text x="392.4" y="898.6" font-size="9.4" fill="#4d4d4d" text-anchor="middle" textLength="4.97" lengthAdjust="spacingAndGlyphs">6</text><path d="M479.01,885.8V888.7" stroke="#333333" stroke-width="1"/><text x="479.01" y="898.6" font-size="9.4" fill="#4d4d4d" text-anchor="middle" textLength="9.94" lengthAdjust="spacingAndGlyphs">12</text><path d="M565.62,885.8V888.7" stroke="#333333" stroke-width="1"/><text x="565.62" y="898.6" font-size="9.4" fill="#4d4d4d" text-anchor="middle" textLength="9.94" lengthAdjust="spacingAndGlyphs">18</text><text x="479.4" y="912" font-size="11" fill="#000" text-anchor="middle">lag [1M]</text><text x="278.7" y="801.85" font-size="11" fill="#000" text-anchor="middle" transform="rotate(-90 278.7 801.85)">acf</text>
<rect x="699.5" y="717.9" width="349" height="167.9" fill="#fff"/><path d="M699.5,878.3H1048.5" stroke="#ebebeb" stroke-width="0.53"/><path d="M699.5,834.4H1048.5" stroke="#ebebeb" stroke-width="0.53"/><path d="M699.5,790.5H1048.5" stroke="#ebebeb" stroke-width="0.53"/><path d="M699.5,746.6H1048.5" stroke="#ebebeb" stroke-width="0.53"/><path d="M743.6,717.9V885.8" stroke="#ebebeb" stroke-width="0.53"/><path d="M830.2,717.9V885.8" stroke="#ebebeb" stroke-width="0.53"/><path d="M916.81,717.9V885.8" stroke="#ebebeb" stroke-width="0.53"/><path d="M1003.42,717.9V885.8" stroke="#ebebeb" stroke-width="0.53"/><path d="M699.5,856.35H1048.5" stroke="#ebebeb" stroke-width="1.07"/><path d="M699.5,812.45H1048.5" stroke="#ebebeb" stroke-width="1.07"/><path d="M699.5,768.55H1048.5" stroke="#ebebeb" stroke-width="1.07"/><path d="M699.5,724.65H1048.5" stroke="#ebebeb" stroke-width="1.07"/><path d="M786.9,717.9V885.8" stroke="#ebebeb" stroke-width="1.07"/><path d="M873.51,717.9V885.8" stroke="#ebebeb" stroke-width="1.07"/><path d="M960.12,717.9V885.8" stroke="#ebebeb" stroke-width="1.07"/><path d="M714.73,812.45V785.45" stroke="#111" stroke-width="1.25"/><path d="M729.16,812.45V841.86" stroke="#111" stroke-width="1.25"/><path d="M743.6,812.45V854.59" stroke="#111" stroke-width="1.25"/><path d="M758.03,812.45V854.59" stroke="#111" stroke-width="1.25"/><path d="M772.47,812.45V811.35" stroke="#111" stroke-width="1.25"/><path d="M786.9,812.45V854.59" stroke="#111" stroke-width="1.25"/><path d="M801.33,812.45V845.38" stroke="#111" stroke-width="1.25"/><path d="M815.77,812.45V878.96" stroke="#111" stroke-width="1.25"/><path d="M830.2,812.45V855.47" stroke="#111" stroke-width="1.25"/><path d="M844.64,812.45V868.64" stroke="#111" stroke-width="1.25"/><path d="M859.07,812.45V861.4" stroke="#111" stroke-width="1.25"/><path d="M873.51,812.45V782.38" stroke="#111" stroke-width="1.25"/><path d="M887.94,812.45V811.35" stroke="#111" stroke-width="1.25"/><path d="M902.38,812.45V781.5" stroke="#111" stroke-width="1.25"/><path d="M916.81,812.45V829.79" stroke="#111" stroke-width="1.25"/><path d="M931.25,812.45V816.84" stroke="#111" stroke-width="1.25"/><path d="M945.68,812.45V790.06" stroke="#111" stroke-width="1.25"/><path d="M960.12,812.45V833.96" stroke="#111" stroke-width="1.25"/><path d="M974.55,812.45V809.16" stroke="#111" stroke-width="1.25"/><path d="M988.99,812.45V824.96" stroke="#111" stroke-width="1.25"/><path d="M1003.42,812.45V835.5" stroke="#111" stroke-width="1.25"/><path d="M1017.86,812.45V833.3" stroke="#111" stroke-width="1.25"/><path d="M1032.3,812.45V840.77" stroke="#111" stroke-width="1.25"/><path d="M699.5,812.45H1048.5" stroke="#000" stroke-width="1.07"/><path d="M699.5,782.69H1048.5" stroke="#2222ff" stroke-width="1.4" stroke-dasharray="4.43 4.43"/><path d="M699.5,842.21H1048.5" stroke="#2222ff" stroke-width="1.4" stroke-dasharray="4.43 4.43"/><rect x="699.5" y="717.9" width="349" height="167.9" fill="none" stroke="#333333" stroke-width="0.62"/><path d="M696.6,856.35H699.5" stroke="#333333" stroke-width="1"/><text x="693.8" y="859.85" font-size="9.4" fill="#4d4d4d" text-anchor="end" textLength="15.39" lengthAdjust="spacingAndGlyphs">-0.2</text><path d="M696.6,812.45H699.5" stroke="#333333" stroke-width="1"/><text x="693.8" y="815.95" font-size="9.4" fill="#4d4d4d" text-anchor="end" textLength="12.42" lengthAdjust="spacingAndGlyphs">0.0</text><path d="M696.6,768.55H699.5" stroke="#333333" stroke-width="1"/><text x="693.8" y="772.05" font-size="9.4" fill="#4d4d4d" text-anchor="end" textLength="12.42" lengthAdjust="spacingAndGlyphs">0.2</text><path d="M696.6,724.65H699.5" stroke="#333333" stroke-width="1"/><text x="693.8" y="728.15" font-size="9.4" fill="#4d4d4d" text-anchor="end" textLength="12.42" lengthAdjust="spacingAndGlyphs">0.4</text><path d="M786.9,885.8V888.7" stroke="#333333" stroke-width="1"/><text x="786.9" y="898.6" font-size="9.4" fill="#4d4d4d" text-anchor="middle" textLength="4.97" lengthAdjust="spacingAndGlyphs">6</text><path d="M873.51,885.8V888.7" stroke="#333333" stroke-width="1"/><text x="873.51" y="898.6" font-size="9.4" fill="#4d4d4d" text-anchor="middle" textLength="9.94" lengthAdjust="spacingAndGlyphs">12</text><path d="M960.12,885.8V888.7" stroke="#333333" stroke-width="1"/><text x="960.12" y="898.6" font-size="9.4" fill="#4d4d4d" text-anchor="middle" textLength="9.94" lengthAdjust="spacingAndGlyphs">18</text><text x="874" y="912" font-size="11" fill="#000" text-anchor="middle">lag [1M]</text><text x="673.3" y="801.85" font-size="11" fill="#000" text-anchor="middle" transform="rotate(-90 673.3 801.85)">pacf</text>
<rect x="1085" y="504" width="788.8" height="416" fill="#fff"/>
<rect x="1126.3" y="543.4" width="723.2" height="81.2" fill="#fff"/><path d="M1126.3,618.2H1849.5" stroke="#ebebeb" stroke-width="0.53"/><path d="M1126.3,596.4H1849.5" stroke="#ebebeb" stroke-width="0.53"/><path d="M1126.3,574.6H1849.5" stroke="#ebebeb" stroke-width="0.53"/><path d="M1126.3,552.8H1849.5" stroke="#ebebeb" stroke-width="0.53"/><path d="M1269.49,543.4V624.6" stroke="#ebebeb" stroke-width="0.53"/><path d="M1453.06,543.4V624.6" stroke="#ebebeb" stroke-width="0.53"/><path d="M1636.62,543.4V624.6" stroke="#ebebeb" stroke-width="0.53"/><path d="M1820.2,543.4V624.6" stroke="#ebebeb" stroke-width="0.53"/><path d="M1126.3,607.3H1849.5" stroke="#ebebeb" stroke-width="1.07"/><path d="M1126.3,585.5H1849.5" stroke="#ebebeb" stroke-width="1.07"/><path d="M1126.3,563.7H1849.5" stroke="#ebebeb" stroke-width="1.07"/><path d="M1177.7,543.4V624.6" stroke="#ebebeb" stroke-width="1.07"/><path d="M1361.27,543.4V624.6" stroke="#ebebeb" stroke-width="1.07"/><path d="M1544.84,543.4V624.6" stroke="#ebebeb" stroke-width="1.07"/><path d="M1728.41,543.4V624.6" stroke="#ebebeb" stroke-width="1.07"/>
<rect x="1159.1" y="569.6" width="9.6" height="29.04" fill="#bfbfbf" stroke="#333" stroke-width="1"/>
<path d="M1177.7,615.31L1180.76,615.79L1183.82,610.59L1186.88,600.07L1189.94,601.25L1193,598.78L1196.06,603.02L1199.12,605.98L1202.18,606.57L1205.24,604.57L1208.3,605.68L1211.35,612.69L1214.41,612.06L1217.47,615.46L1220.53,607.45L1223.59,599.34L1226.65,598.6L1229.71,601.11L1232.77,603.5L1235.83,603.32L1238.89,602.1L1241.95,602.47L1245.01,601.36L1248.07,607.82L1251.13,611.14L1254.19,615.86L1257.25,615.2L1260.31,605.05L1263.37,598.52L1266.43,596.68L1269.49,596.31L1272.54,598.78L1275.6,604.39L1278.66,603.58L1281.72,598.34L1284.78,607.01L1287.84,610.48L1290.9,610.88L1293.96,613.91L1297.02,608.37L1300.08,599.7L1303.14,591.96L1306.2,602.66L1309.26,604.02L1312.32,603.39L1315.38,602.03L1318.44,599.34L1321.5,609.3L1324.56,610.03L1327.62,614.28L1330.67,613.46L1333.73,605.79L1336.79,601L1339.85,594.36L1342.91,596.2L1345.97,601.25L1349.03,601.25L1352.09,601.44L1355.15,598.97L1358.21,606.35L1361.27,610.77L1364.33,608.85L1367.39,600L1370.45,595.28L1373.51,597.75L1376.57,593.73L1379.63,601.18L1382.69,608.01L1385.75,606.53L1388.81,599.63L1391.87,595.09L1394.92,587.35L1397.98,609.11L1401.04,616.05L1404.1,616.23L1407.16,603.95L1410.22,598.78L1413.28,593.88L1416.34,599.78L1419.4,600.37L1422.46,599.7L1425.52,600.44L1428.58,604.13L1431.64,609.78L1434.7,610.48L1437.76,609.74L1440.82,610.33L1443.88,604.98L1446.94,603.47L1450,596.21L1453.06,599.23L1456.11,600.89L1459.17,602.55L1462.23,602.85L1465.29,601L1468.35,608.27L1471.41,611.7L1474.47,611.63L1477.53,612.22L1480.59,605.87L1483.65,596.28L1486.71,594.66L1489.77,598.79L1492.83,598.42L1495.89,603.55L1498.95,601.55L1502.01,605.13L1505.07,610.67L1508.13,610.11L1511.19,616.83L1514.24,615.28L1517.3,605.32L1520.36,597.68L1523.42,598.31L1526.48,599.05L1529.54,600.63L1532.6,605.87L1535.66,605.13L1538.72,603.1L1541.78,610.68L1544.84,613.63L1547.9,621.11L1550.96,617.53L1554.02,607.09L1557.08,606.91L1560.14,604L1563.2,603.33L1566.26,603.11L1569.32,603.73L1572.38,602.52L1575.43,602.84L1578.49,605.88L1581.55,611.84L1584.61,612.16L1587.67,608.71L1590.73,587.74L1593.79,581.69L1596.85,580.04L1599.91,591.19L1602.97,591.42L1606.03,590.3L1609.09,601.09L1612.15,603.51L1615.21,613.41L1618.27,601.49L1621.33,601.72L1624.39,607L1627.45,600.51L1630.51,596.48L1633.57,589.27L1636.62,588.46L1639.68,596.57L1642.74,596.72L1645.8,597.28L1648.86,598.2L1651.92,603.1L1654.98,590.75L1658.04,599.23L1661.1,596.65L1664.16,583.85L1667.22,579.86L1670.28,574.51L1673.34,583.18L1676.4,585.88L1679.46,583L1682.52,581.97L1685.58,585.77L1688.64,596.09L1691.7,590.38L1694.76,589.2L1697.82,591.48L1700.87,583.74L1703.93,579.49L1706.99,584.92L1710.05,586.32L1713.11,583.18L1716.17,576.8L1719.23,579.13L1722.29,583.18L1725.35,592.76L1728.41,594.33L1731.47,590.87L1734.53,586.17L1737.59,576.45L1740.65,576.69L1743.71,547.14L1746.77,549.98L1749.83,573.93L1752.89,576.78L1755.95,582L1759.01,580.95L1762.06,583.18L1765.12,588.64L1768.18,594.57L1771.24,592.2L1774.3,579.63L1777.36,576.07L1780.42,564.69L1783.48,570.38L1786.54,568.01L1789.6,575.12L1792.66,582.38L1795.72,580.2L1798.78,580.81L1801.84,584.27L1804.9,585.7L1807.96,589.44L1811.02,582L1814.08,576.31L1817.14,572.99" fill="none" stroke="#000" stroke-width="1.25" stroke-linejoin="round"/>
<rect x="1126.3" y="543.4" width="723.2" height="81.2" fill="none" stroke="#333333" stroke-width="0.62"/>
<rect x="1849.5" y="543.4" width="18.8" height="81.2" fill="#d9d9d9" stroke="#333" stroke-width="0.62"/>
<path d="M1850.25,543.4V624.6" stroke="#7d7d7d" stroke-width="1.7"/>
<text x="1855.9" y="584" font-size="9.2" fill="#1a1a1a" text-anchor="middle" textLength="17.21" lengthAdjust="spacingAndGlyphs" transform="rotate(90 1855.9 584)">sum</text>
<path d="M1123.4,607.3H1126.3" stroke="#333333" stroke-width="1"/>
<text x="1120.6" y="610.8" font-size="9.4" fill="#4d4d4d" text-anchor="end" textLength="29.81" lengthAdjust="spacingAndGlyphs">100000</text>
<path d="M1123.4,585.5H1126.3" stroke="#333333" stroke-width="1"/>
<text x="1120.6" y="589" font-size="9.4" fill="#4d4d4d" text-anchor="end" textLength="29.81" lengthAdjust="spacingAndGlyphs">125000</text>
<path d="M1123.4,563.7H1126.3" stroke="#333333" stroke-width="1"/>
<text x="1120.6" y="567.2" font-size="9.4" fill="#4d4d4d" text-anchor="end" textLength="29.81" lengthAdjust="spacingAndGlyphs">150000</text>
<rect x="1126.3" y="631.1" width="723.2" height="81" fill="#fff"/><path d="M1126.3,697.22H1849.5" stroke="#ebebeb" stroke-width="0.53"/><path d="M1126.3,675.45H1849.5" stroke="#ebebeb" stroke-width="0.53"/><path d="M1126.3,653.68H1849.5" stroke="#ebebeb" stroke-width="0.53"/><path d="M1126.3,631.9H1849.5" stroke="#ebebeb" stroke-width="0.53"/><path d="M1269.49,631.1V712.1" stroke="#ebebeb" stroke-width="0.53"/><path d="M1453.06,631.1V712.1" stroke="#ebebeb" stroke-width="0.53"/><path d="M1636.62,631.1V712.1" stroke="#ebebeb" stroke-width="0.53"/><path d="M1820.2,631.1V712.1" stroke="#ebebeb" stroke-width="0.53"/><path d="M1126.3,708.1H1849.5" stroke="#ebebeb" stroke-width="1.07"/><path d="M1126.3,686.33H1849.5" stroke="#ebebeb" stroke-width="1.07"/><path d="M1126.3,664.56H1849.5" stroke="#ebebeb" stroke-width="1.07"/><path d="M1126.3,642.79H1849.5" stroke="#ebebeb" stroke-width="1.07"/><path d="M1177.7,631.1V712.1" stroke="#ebebeb" stroke-width="1.07"/><path d="M1361.27,631.1V712.1" stroke="#ebebeb" stroke-width="1.07"/><path d="M1544.84,631.1V712.1" stroke="#ebebeb" stroke-width="1.07"/><path d="M1728.41,631.1V712.1" stroke="#ebebeb" stroke-width="1.07"/>
<rect x="1159.1" y="635.19" width="9.6" height="72.5" fill="#bfbfbf" stroke="#333" stroke-width="1"/>
<path d="M1177.7,706.74L1180.76,706.55L1183.82,706.37L1186.88,706.19L1189.94,705.97L1193,705.75L1196.06,705.54L1199.12,705.31L1202.18,705.09L1205.24,704.87L1208.3,704.69L1211.35,704.51L1214.41,704.33L1217.47,704.08L1220.53,703.83L1223.59,703.58L1226.65,703.3L1229.71,703.02L1232.77,702.74L1235.83,702.55L1238.89,702.35L1241.95,702.15L1245.01,702L1248.07,701.85L1251.13,701.7L1254.19,701.49L1257.25,701.27L1260.31,701.06L1263.37,700.88L1266.43,700.7L1269.49,700.53L1272.54,700.45L1275.6,700.36L1278.66,700.28L1281.72,700.27L1284.78,700.26L1287.84,700.25L1290.9,700.38L1293.96,700.51L1297.02,700.64L1300.08,700.87L1303.14,701.1L1306.2,701.33L1309.26,701.39L1312.32,701.44L1315.38,701.5L1318.44,701.25L1321.5,701.01L1324.56,700.77L1327.62,700.41L1330.67,700.06L1333.73,699.71L1336.79,699.08L1339.85,698.45L1342.91,697.82L1345.97,697.16L1349.03,696.5L1352.09,695.84L1355.15,695.47L1358.21,695.1L1361.27,694.73L1364.33,694.48L1367.39,694.22L1370.45,693.96L1373.51,693.99L1376.57,694.02L1379.63,694.05L1382.69,694.31L1385.75,694.56L1388.81,694.82L1391.87,695.21L1394.92,695.6L1397.98,695.99L1401.04,696.32L1404.1,696.66L1407.16,697L1410.22,697.33L1413.28,697.65L1416.34,697.98L1419.4,698.42L1422.46,698.86L1425.52,699.29L1428.58,699.48L1431.64,699.67L1434.7,699.86L1437.76,700.03L1440.82,700.2L1443.88,700.36L1446.94,700.43L1450,700.5L1453.06,700.57L1456.11,700.46L1459.17,700.34L1462.23,700.22L1465.29,700.2L1468.35,700.17L1471.41,700.14L1474.47,700.2L1477.53,700.26L1480.59,700.32L1483.65,700.5L1486.71,700.68L1489.77,700.86L1492.83,701.09L1495.89,701.31L1498.95,701.54L1502.01,701.84L1505.07,702.13L1508.13,702.43L1511.19,702.8L1514.24,703.18L1517.3,703.56L1520.36,704.07L1523.42,704.58L1526.48,705.09L1529.54,705.8L1532.6,706.52L1535.66,707.23L1538.72,707.73L1541.78,708.22L1544.84,708.72L1547.9,708.58L1550.96,708.44L1554.02,708.3L1557.08,707.32L1560.14,706.33L1563.2,705.35L1566.26,703.4L1569.32,701.46L1572.38,699.51L1575.43,697.16L1578.49,694.8L1581.55,692.45L1584.61,690.56L1587.67,688.68L1590.73,686.79L1593.79,685.85L1596.85,684.91L1599.91,683.97L1602.97,683.89L1606.03,683.82L1609.09,683.75L1612.15,684.13L1615.21,684.52L1618.27,684.9L1621.33,685.04L1624.39,685.17L1627.45,685.31L1630.51,684.4L1633.57,683.5L1636.62,682.6L1639.68,680.75L1642.74,678.9L1645.8,677.05L1648.86,674.78L1651.92,672.51L1654.98,670.24L1658.04,667.93L1661.1,665.62L1664.16,663.31L1667.22,661.55L1670.28,659.79L1673.34,658.02L1676.4,657.28L1679.46,656.54L1682.52,655.8L1685.58,655.57L1688.64,655.34L1691.7,655.11L1694.76,654.79L1697.82,654.47L1700.87,654.14L1703.93,653.41L1706.99,652.67L1710.05,651.94L1713.11,650.4L1716.17,648.86L1719.23,647.32L1722.29,645.34L1725.35,643.37L1728.41,641.39L1731.47,639.76L1734.53,638.12L1737.59,636.49L1740.65,635.79L1743.71,635.09L1746.77,634.39L1749.83,634.31L1752.89,634.23L1755.95,634.16L1759.01,634.55L1762.06,634.94L1765.12,635.34L1768.18,635.91L1771.24,636.49L1774.3,637.06L1777.36,637.13L1780.42,637.19L1783.48,637.25L1786.54,637.43L1789.6,637.61L1792.66,637.79L1795.72,637.96L1798.78,638.12L1801.84,638.28L1804.9,638.42L1807.96,638.56L1811.02,638.7L1814.08,638.89L1817.14,639.07" fill="none" stroke="#000" stroke-width="1.25" stroke-linejoin="round"/>
<rect x="1126.3" y="631.1" width="723.2" height="81" fill="none" stroke="#333333" stroke-width="0.62"/>
<rect x="1849.5" y="631.1" width="18.8" height="81" fill="#d9d9d9" stroke="#333" stroke-width="0.62"/>
<path d="M1850.25,631.1V712.1" stroke="#7d7d7d" stroke-width="1.7"/>
<text x="1855.9" y="671.6" font-size="9.2" fill="#1a1a1a" text-anchor="middle" textLength="20.76" lengthAdjust="spacingAndGlyphs" transform="rotate(90 1855.9 671.6)">trend</text>
<path d="M1123.4,708.1H1126.3" stroke="#333333" stroke-width="1"/>
<text x="1120.6" y="711.6" font-size="9.4" fill="#4d4d4d" text-anchor="end" textLength="29.81" lengthAdjust="spacingAndGlyphs">100000</text>
<path d="M1123.4,686.33H1126.3" stroke="#333333" stroke-width="1"/>
<text x="1120.6" y="689.83" font-size="9.4" fill="#4d4d4d" text-anchor="end" textLength="29.14" lengthAdjust="spacingAndGlyphs">110000</text>
<path d="M1123.4,664.56H1126.3" stroke="#333333" stroke-width="1"/>
<text x="1120.6" y="668.06" font-size="9.4" fill="#4d4d4d" text-anchor="end" textLength="29.81" lengthAdjust="spacingAndGlyphs">120000</text>
<path d="M1123.4,642.79H1126.3" stroke="#333333" stroke-width="1"/>
<text x="1120.6" y="646.29" font-size="9.4" fill="#4d4d4d" text-anchor="end" textLength="29.81" lengthAdjust="spacingAndGlyphs">130000</text>
<rect x="1126.3" y="718.6" width="723.2" height="80.8" fill="#fff"/><path d="M1126.3,797.25H1849.5" stroke="#ebebeb" stroke-width="0.53"/><path d="M1126.3,775.55H1849.5" stroke="#ebebeb" stroke-width="0.53"/><path d="M1126.3,753.85H1849.5" stroke="#ebebeb" stroke-width="0.53"/><path d="M1126.3,732.15H1849.5" stroke="#ebebeb" stroke-width="0.53"/><path d="M1269.49,718.6V799.4" stroke="#ebebeb" stroke-width="0.53"/><path d="M1453.06,718.6V799.4" stroke="#ebebeb" stroke-width="0.53"/><path d="M1636.62,718.6V799.4" stroke="#ebebeb" stroke-width="0.53"/><path d="M1820.2,718.6V799.4" stroke="#ebebeb" stroke-width="0.53"/><path d="M1126.3,786.4H1849.5" stroke="#ebebeb" stroke-width="1.07"/><path d="M1126.3,764.7H1849.5" stroke="#ebebeb" stroke-width="1.07"/><path d="M1126.3,743H1849.5" stroke="#ebebeb" stroke-width="1.07"/><path d="M1126.3,721.3H1849.5" stroke="#ebebeb" stroke-width="1.07"/><path d="M1177.7,718.6V799.4" stroke="#ebebeb" stroke-width="1.07"/><path d="M1361.27,718.6V799.4" stroke="#ebebeb" stroke-width="1.07"/><path d="M1544.84,718.6V799.4" stroke="#ebebeb" stroke-width="1.07"/><path d="M1728.41,718.6V799.4" stroke="#ebebeb" stroke-width="1.07"/>
<rect x="1159.1" y="722.59" width="9.6" height="72.27" fill="#bfbfbf" stroke="#333" stroke-width="1"/>
<path d="M1177.7,782.65L1180.76,788.98L1183.82,777.94L1186.88,755.05L1189.94,750.32L1193,748.03L1196.06,755.6L1199.12,759.9L1202.18,762.76L1205.24,760.75L1208.3,757.36L1211.35,775.94L1214.41,782.26L1217.47,788.91L1220.53,779.4L1223.59,756.93L1226.65,750.31L1229.71,747.25L1232.77,755.01L1235.83,759.2L1238.89,762.57L1241.95,760.63L1245.01,756.18L1248.07,775.3L1251.13,780.47L1254.19,788.33L1257.25,784.21L1260.31,763.83L1263.37,750.29L1266.43,744.69L1269.49,753.73L1272.54,757.26L1275.6,761.98L1278.66,760.46L1281.72,752.26L1284.78,773.25L1287.84,779.91L1290.9,786.81L1293.96,789.06L1297.02,770.59L1300.08,753.44L1303.14,739.31L1306.2,751.9L1309.26,758.92L1312.32,762.46L1315.38,760.76L1318.44,752.63L1321.5,774.88L1324.56,781.51L1327.62,785.15L1330.67,780.33L1333.73,765.06L1336.79,755.75L1339.85,740.51L1342.91,755.6L1345.97,767.03L1349.03,765.74L1352.09,760.27L1355.15,752.64L1358.21,762.21L1361.27,783.09L1364.33,789.15L1367.39,779.42L1370.45,760.29L1373.51,755.9L1376.57,743.46L1379.63,756.98L1382.69,768.22L1385.75,766.13L1388.81,759.41L1391.87,755.34L1394.92,756.26L1397.98,782.94L1401.04,788.28L1404.1,782.44L1407.16,762.05L1410.22,757.03L1413.28,743.58L1416.34,757.12L1419.4,763.55L1422.46,762.73L1425.52,758.58L1428.58,757.76L1431.64,763.22L1434.7,781.72L1437.76,785.63L1440.82,786.62L1443.88,767.47L1446.94,755.18L1450,742.63L1453.06,752.83L1456.11,754.63L1459.17,759.44L1462.23,758.74L1465.29,761.84L1468.35,777.43L1471.41,781.09L1474.47,785.11L1477.53,784.91L1480.59,767.08L1483.65,750.13L1486.71,743.4L1489.77,750.2L1492.83,751.79L1495.89,761.83L1498.95,759.03L1502.01,759.73L1505.07,775.83L1508.13,779.43L1511.19,791.63L1514.24,787.62L1517.3,764.89L1520.36,749.76L1523.42,747.21L1526.48,750.47L1529.54,751.94L1532.6,761.83L1535.66,758.99L1538.72,760.01L1541.78,774.58L1544.84,781.99L1547.9,795.46L1550.96,788.59L1554.02,755.96L1557.08,746.58L1560.14,743.3L1563.2,751.62L1566.26,753.31L1569.32,757.56L1572.38,764.09L1575.43,765.44L1578.49,781.88L1581.55,782.58L1584.61,789.21L1587.67,787.55L1590.73,754.01L1593.79,745.52L1596.85,737.5L1599.91,749.25L1602.97,756.25L1606.03,756.75L1609.09,768.92L1612.15,773.58L1615.21,791.01L1618.27,775.01L1621.33,782.75L1624.39,785.31L1627.45,755.55L1630.51,745.33L1633.57,733.84L1636.62,748.27L1639.68,759.96L1642.74,758.25L1645.8,766.75L1648.86,773.02L1651.92,793.49L1654.98,768.63L1658.04,777.92L1661.1,781.52L1664.16,758.74L1667.22,749.76L1670.28,744.04L1673.34,754.91L1676.4,762.7L1679.46,756.58L1682.52,758.97L1685.58,768.02L1688.64,790.79L1691.7,778.47L1694.76,782.15L1697.82,780.75L1700.87,757.75L1703.93,751.61L1706.99,733.5L1710.05,744.18L1713.11,760.65L1716.17,754.67L1719.23,760.94L1722.29,767.97L1725.35,787.89L1728.41,790.14L1731.47,790.49L1734.53,786.08L1737.59,761.94L1740.65,757.16L1743.71,722L1746.77,737.06L1749.83,753.4L1752.89,755.87L1755.95,766.97L1759.01,768.93L1762.06,781.18L1765.12,787.88L1768.18,791.07L1771.24,789.39L1774.3,765.35L1777.36,757.65L1780.42,726.99L1783.48,734.17L1786.54,751.22L1789.6,755.99L1792.66,768.36L1795.72,768.91L1798.78,779.07L1801.84,786.98L1804.9,791.16L1807.96,790.25L1811.02,766.18L1814.08,757.69L1817.14,728.71" fill="none" stroke="#000" stroke-width="1.25" stroke-linejoin="round"/>
<rect x="1126.3" y="718.6" width="723.2" height="80.8" fill="none" stroke="#333333" stroke-width="0.62"/>
<rect x="1849.5" y="718.6" width="18.8" height="80.8" fill="#d9d9d9" stroke="#333" stroke-width="0.62"/>
<path d="M1850.25,718.6V799.4" stroke="#7d7d7d" stroke-width="1.7"/>
<text x="1855.9" y="759" font-size="9.2" fill="#1a1a1a" text-anchor="middle" textLength="52.15" lengthAdjust="spacingAndGlyphs" transform="rotate(90 1855.9 759)">season_year</text>
<path d="M1123.4,786.4H1126.3" stroke="#333333" stroke-width="1"/>
<text x="1120.6" y="789.9" font-size="9.4" fill="#4d4d4d" text-anchor="end" textLength="27.81" lengthAdjust="spacingAndGlyphs">-10000</text>
<path d="M1123.4,764.7H1126.3" stroke="#333333" stroke-width="1"/>
<text x="1120.6" y="768.2" font-size="9.4" fill="#4d4d4d" text-anchor="end" textLength="4.97" lengthAdjust="spacingAndGlyphs">0</text>
<path d="M1123.4,743H1126.3" stroke="#333333" stroke-width="1"/>
<text x="1120.6" y="746.5" font-size="9.4" fill="#4d4d4d" text-anchor="end" textLength="24.84" lengthAdjust="spacingAndGlyphs">10000</text>
<path d="M1123.4,721.3H1126.3" stroke="#333333" stroke-width="1"/>
<text x="1120.6" y="724.8" font-size="9.4" fill="#4d4d4d" text-anchor="end" textLength="24.84" lengthAdjust="spacingAndGlyphs">20000</text>
<rect x="1126.3" y="805.6" width="723.2" height="80.4" fill="#fff"/><path d="M1126.3,884H1849.5" stroke="#ebebeb" stroke-width="0.53"/><path d="M1126.3,862.2H1849.5" stroke="#ebebeb" stroke-width="0.53"/><path d="M1126.3,840.4H1849.5" stroke="#ebebeb" stroke-width="0.53"/><path d="M1126.3,818.6H1849.5" stroke="#ebebeb" stroke-width="0.53"/><path d="M1269.49,805.6V886" stroke="#ebebeb" stroke-width="0.53"/><path d="M1453.06,805.6V886" stroke="#ebebeb" stroke-width="0.53"/><path d="M1636.62,805.6V886" stroke="#ebebeb" stroke-width="0.53"/><path d="M1820.2,805.6V886" stroke="#ebebeb" stroke-width="0.53"/><path d="M1126.3,873.1H1849.5" stroke="#ebebeb" stroke-width="1.07"/><path d="M1126.3,851.3H1849.5" stroke="#ebebeb" stroke-width="1.07"/><path d="M1126.3,829.5H1849.5" stroke="#ebebeb" stroke-width="1.07"/><path d="M1126.3,807.7H1849.5" stroke="#ebebeb" stroke-width="1.07"/><path d="M1177.7,805.6V886" stroke="#ebebeb" stroke-width="1.07"/><path d="M1361.27,805.6V886" stroke="#ebebeb" stroke-width="1.07"/><path d="M1544.84,805.6V886" stroke="#ebebeb" stroke-width="1.07"/><path d="M1728.41,805.6V886" stroke="#ebebeb" stroke-width="1.07"/>
<rect x="1159.1" y="809.59" width="9.6" height="72.6" fill="#bfbfbf" stroke="#333" stroke-width="1"/>
<path d="M1177.7,854.65L1180.76,849.68L1183.82,847.95L1186.88,844.85L1189.94,852.77L1193,849.1L1196.06,852.32L1199.12,855.6L1202.18,854.43L1205.24,851.69L1208.3,858.04L1211.35,857.08L1214.41,849.34L1217.47,851.39L1220.53,841.19L1223.59,843.72L1226.65,848.81L1229.71,858.43L1232.77,856.91L1235.83,852.44L1238.89,846.2L1241.95,849.27L1245.01,851.12L1248.07,848.21L1251.13,851.47L1254.19,855.59L1257.25,858.28L1260.31,853.61L1263.37,851.07L1266.43,852.26L1269.49,842.43L1272.54,845.14L1275.6,854.51L1278.66,854.09L1281.72,849.24L1284.78,849.83L1287.84,851.83L1290.9,845.78L1293.96,850.95L1297.02,855.54L1300.08,850.86L1303.14,845.46L1306.2,859.33L1309.26,855.63L1312.32,850.45L1315.38,848.69L1318.44,850.37L1321.5,853.16L1324.56,848.59L1327.62,855.9L1330.67,859.06L1333.73,855.57L1336.79,853.57L1339.85,852.91L1342.91,842.98L1345.97,844.8L1349.03,846.75L1352.09,853.37L1355.15,855.23L1358.21,864.43L1361.27,854.88L1364.33,844.26L1367.39,832.16L1370.45,839.83L1373.51,850.4L1376.57,852.8L1379.63,857.83L1382.69,863.34L1385.75,861.49L1388.81,850.75L1391.87,843.1L1394.92,822.42L1397.98,849.64L1401.04,861.27L1404.1,867.26L1407.16,856.7L1410.22,848.5L1413.28,849.42L1416.34,850.24L1419.4,844.82L1422.46,843.54L1425.52,849.13L1428.58,858.98L1431.64,867.42L1434.7,850.39L1437.76,844.45L1440.82,844.77L1443.88,850.46L1446.94,858.96L1450,853.34L1453.06,850.58L1456.11,853.05L1459.17,852.48L1462.23,854.04L1465.29,846.34L1468.35,848.87L1471.41,853.8L1474.47,849.52L1477.53,851.14L1480.59,853.13L1483.65,846L1486.71,848.52L1489.77,851.83L1492.83,849.09L1495.89,851.6L1498.95,849.2L1502.01,857.15L1505.07,854.51L1508.13,849.21L1511.19,853.37L1514.24,853.14L1517.3,850.7L1520.36,846.29L1523.42,849.92L1526.48,847.98L1529.54,849.75L1532.6,852.2L1535.66,852.49L1538.72,845.89L1541.78,849.69L1544.84,849.15L1547.9,854.46L1550.96,852.54L1554.02,859.36L1557.08,869.33L1560.14,866.32L1563.2,857.28L1566.26,856.96L1569.32,856.21L1572.38,848.58L1575.43,850.36L1578.49,843.82L1581.55,860.37L1584.61,856.38L1587.67,851.3L1590.73,834.49L1593.79,828.83L1596.85,833.69L1599.91,850.71L1602.97,844.32L1606.03,841.09L1609.09,855.92L1612.15,856.91L1615.21,863.76L1618.27,849.66L1621.33,842.31L1624.39,852.82L1627.45,866.34L1630.51,867.43L1633.57,861.86L1636.62,846.24L1639.68,856.63L1642.74,860.57L1645.8,855.26L1648.86,853.55L1651.92,847.52L1654.98,843.88L1658.04,858.07L1661.1,850.31L1664.16,843.51L1667.22,844.33L1670.28,838.48L1673.34,850.99L1676.4,850.64L1679.46,850.33L1682.52,846.1L1685.58,846.73L1688.64,849.92L1691.7,848.23L1694.76,841.9L1697.82,849.35L1700.87,853.4L1703.93,849.7L1706.99,882.19L1710.05,875.7L1713.11,852.86L1716.17,844.45L1719.23,845.51L1722.29,850.56L1725.35,856.49L1728.41,860.11L1731.47,852.74L1734.53,847.07L1737.59,848.65L1740.65,854.75L1743.71,816.9L1746.77,809.59L1749.83,853.13L1752.89,857.84L1755.95,859.8L1759.01,854.83L1762.06,847.71L1765.12,854.22L1768.18,865.27L1771.24,860.44L1774.3,852.59L1777.36,851.37L1780.42,853.66L1783.48,860.61L1786.54,837.37L1789.6,850.18L1792.66,855.72L1795.72,849.55L1798.78,840.72L1801.84,841.27L1804.9,840.49L1807.96,850.62L1811.02,856.05L1814.08,850.17L1817.14,870.79" fill="none" stroke="#000" stroke-width="1.25" stroke-linejoin="round"/>
<rect x="1126.3" y="805.6" width="723.2" height="80.4" fill="none" stroke="#333333" stroke-width="0.62"/>
<rect x="1849.5" y="805.6" width="18.8" height="80.4" fill="#d9d9d9" stroke="#333" stroke-width="0.62"/>
<path d="M1850.25,805.6V886" stroke="#7d7d7d" stroke-width="1.7"/>
<text x="1855.9" y="845.8" font-size="9.2" fill="#1a1a1a" text-anchor="middle" textLength="41.01" lengthAdjust="spacingAndGlyphs" transform="rotate(90 1855.9 845.8)">remainder</text>
<path d="M1123.4,873.1H1126.3" stroke="#333333" stroke-width="1"/>
<text x="1120.6" y="876.6" font-size="9.4" fill="#4d4d4d" text-anchor="end" textLength="27.81" lengthAdjust="spacingAndGlyphs">-10000</text>
<path d="M1123.4,851.3H1126.3" stroke="#333333" stroke-width="1"/>
<text x="1120.6" y="854.8" font-size="9.4" fill="#4d4d4d" text-anchor="end" textLength="4.97" lengthAdjust="spacingAndGlyphs">0</text>
<path d="M1123.4,829.5H1126.3" stroke="#333333" stroke-width="1"/>
<text x="1120.6" y="833" font-size="9.4" fill="#4d4d4d" text-anchor="end" textLength="24.84" lengthAdjust="spacingAndGlyphs">10000</text>
<path d="M1123.4,807.7H1126.3" stroke="#333333" stroke-width="1"/>
<text x="1120.6" y="811.2" font-size="9.4" fill="#4d4d4d" text-anchor="end" textLength="24.84" lengthAdjust="spacingAndGlyphs">20000</text>
<path d="M1177.7,886V888.9" stroke="#333333" stroke-width="1"/>
<text x="1177.7" y="898.7" font-size="9.4" fill="#4d4d4d" text-anchor="middle" textLength="36.75" lengthAdjust="spacingAndGlyphs">2005 Jan</text>
<path d="M1361.27,886V888.9" stroke="#333333" stroke-width="1"/>
<text x="1361.27" y="898.7" font-size="9.4" fill="#4d4d4d" text-anchor="middle" textLength="36.75" lengthAdjust="spacingAndGlyphs">2010 Jan</text>
<path d="M1544.84,886V888.9" stroke="#333333" stroke-width="1"/>
<text x="1544.84" y="898.7" font-size="9.4" fill="#4d4d4d" text-anchor="middle" textLength="36.75" lengthAdjust="spacingAndGlyphs">2015 Jan</text>
<path d="M1728.41,886V888.9" stroke="#333333" stroke-width="1"/>
<text x="1728.41" y="898.7" font-size="9.4" fill="#4d4d4d" text-anchor="middle" textLength="36.75" lengthAdjust="spacingAndGlyphs">2020 Jan</text>
<text x="1487.9" y="912" font-size="11" fill="#000" text-anchor="middle">date</text>
<text x="1126.3" y="520.3" font-size="13.2" fill="#000" textLength="117" lengthAdjust="spacingAndGlyphs">STL decomposition</text>
<text x="1126.3" y="535.9" font-size="11" fill="#000" textLength="203.6" lengthAdjust="spacingAndGlyphs">sum = trend + season_year + remainder</text></svg>
</section></div>
</body></html>
